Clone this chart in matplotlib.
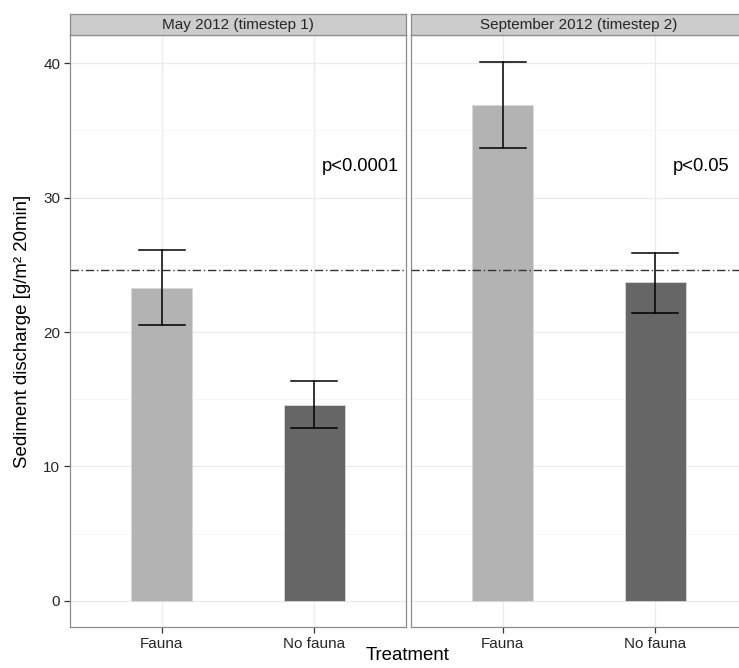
import matplotlib
matplotlib.use("Agg")
import matplotlib.pyplot as plt
from matplotlib.ticker import MultipleLocator

plt.rcParams["font.family"] = ["Liberation Sans", "DejaVu Sans"]

# data
panels = ["May 2012 (timestep 1)", "September 2012 (timestep 2)"]
treatments = ["Fauna", "No fauna"]
means = [[23.3, 14.6], [36.9, 23.7]]
err_lo = [[20.5, 12.85], [33.7, 21.45]]
err_hi = [[26.1, 16.35], [40.1, 25.85]]
p_labels = ["p<0.0001", "p<0.05"]
p_pos = (1.3, 32.3)
ref_line = 24.6
bar_colors = ["#b3b3b3", "#666666"]

W, H = 739, 668
fig = plt.figure(figsize=(W / 100, H / 100), dpi=100)

px_w = 336
panel_left = [70, 411]
top_px, bot_px, strip_px = 35, 627, 21
border_col = "#8c8c8c"
txt_col = "#262626"

axes = []
for i, name in enumerate(panels):
    ax = fig.add_axes([panel_left[i] / W, 1 - bot_px / H, px_w / W, (bot_px - top_px) / H])
    axes.append(ax)
    x = range(len(treatments))
    ax.bar(x, means[i], width=0.4, color=bar_colors, edgecolor="#d9d9d9",
           linewidth=0.6, zorder=2)
    for j in x:
        ax.plot([j, j], [err_lo[i][j], err_hi[i][j]], color="black", lw=1.1, zorder=3)
        for yv in (err_lo[i][j], err_hi[i][j]):
            ax.plot([j - 0.15, j + 0.15], [yv, yv], color="black", lw=1.1, zorder=3)
    ax.axhline(ref_line, color="#333333", ls=(0, (6, 2, 1, 2)), lw=1.0, zorder=4)
    ax.text(p_pos[0], p_pos[1], p_labels[i], ha="center", va="center",
            fontsize=13.2, color="black")

    ax.set_xlim(-0.6, 1.6)
    ax.set_ylim(-1.94, 42.1)
    ax.set_xticks(list(x))
    ax.set_xticklabels(treatments)
    ax.yaxis.set_major_locator(MultipleLocator(10))
    ax.yaxis.set_minor_locator(MultipleLocator(5))
    ax.grid(True, which="major", color="#ebebeb", lw=0.9, zorder=0)
    ax.grid(True, which="minor", axis="y", color="#f5f5f5", lw=0.7, zorder=0)
    ax.set_axisbelow(True)
    ax.tick_params(axis="both", which="major", length=4, color="#333333",
                   labelsize=11, labelcolor=txt_col, width=0.9, pad=3)
    ax.tick_params(axis="y", which="minor", length=0)
    for sp in ax.spines.values():
        sp.set_color(border_col)
        sp.set_linewidth(0.9)
    if i > 0:
        ax.tick_params(axis="y", which="both", left=False, labelleft=False)

    # facet strip
    sax = fig.add_axes([panel_left[i] / W, 1 - top_px / H, px_w / W, strip_px / H])
    sax.set_facecolor("#cccccc")
    sax.set_xticks([])
    sax.set_yticks([])
    for sp in sax.spines.values():
        sp.set_color(border_col)
        sp.set_linewidth(0.9)
    sax.text(0.5, 0.5, name, ha="center", va="center", fontsize=11,
             color=txt_col, transform=sax.transAxes)

axes[0].set_ylabel("Sediment discharge [g/m² 20min]", fontsize=13.4, labelpad=9)
fig.text(408 / W, 1 - 656 / H, "Treatment", ha="center", va="center", fontsize=13.4)

fig.savefig("out.png", dpi=100)
